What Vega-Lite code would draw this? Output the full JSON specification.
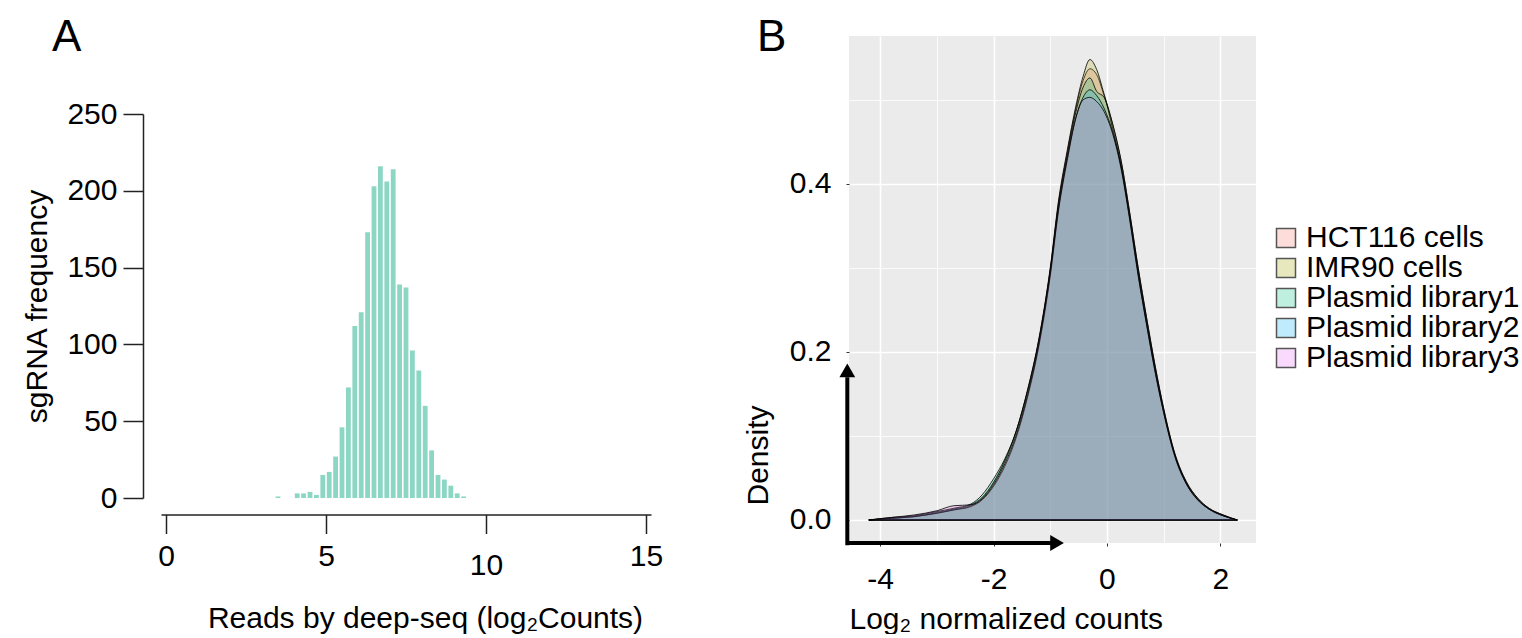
{
  "$schema": "https://vega.github.io/schema/vega-lite/v6.json",
  "padding": {"left": 22, "top": 16, "right": 0, "bottom": 0},
  "background": "white",
  "config": {
    "font": "Liberation Sans",
    "view": {"stroke": null},
    "axis": {"labelFontSize": 30, "titleFontSize": 30, "labelColor": "black", "titleColor": "black", "titleFontWeight": "normal", "domainColor": "#222", "tickColor": "#222", "grid": false, "labelFont": "Liberation Sans", "titleFont": "Liberation Sans"},
    "title": {"fontSize": 44, "fontWeight": "normal", "anchor": "start", "frame": "group", "color": "black", "font": "Liberation Sans"},
    "concat": {"spacing": 80}
  },
  "hconcat": [
    {
      "title": {"text": "A", "dx": -109, "offset": -24},
      "width": 490,
      "height": 507,
      "data": {"values": [
        {"bin_center": 3.5, "frequency": 1},
        {"bin_center": 4.1, "frequency": 3},
        {"bin_center": 4.3, "frequency": 3},
        {"bin_center": 4.5, "frequency": 4},
        {"bin_center": 4.7, "frequency": 2},
        {"bin_center": 4.9, "frequency": 15},
        {"bin_center": 5.1, "frequency": 17},
        {"bin_center": 5.3, "frequency": 27},
        {"bin_center": 5.5, "frequency": 46},
        {"bin_center": 5.7, "frequency": 72},
        {"bin_center": 5.9, "frequency": 112},
        {"bin_center": 6.1, "frequency": 121},
        {"bin_center": 6.3, "frequency": 173},
        {"bin_center": 6.5, "frequency": 203},
        {"bin_center": 6.7, "frequency": 216},
        {"bin_center": 6.9, "frequency": 206},
        {"bin_center": 7.1, "frequency": 214},
        {"bin_center": 7.3, "frequency": 139},
        {"bin_center": 7.5, "frequency": 137},
        {"bin_center": 7.7, "frequency": 96},
        {"bin_center": 7.9, "frequency": 83},
        {"bin_center": 8.1, "frequency": 60},
        {"bin_center": 8.3, "frequency": 31},
        {"bin_center": 8.5, "frequency": 15},
        {"bin_center": 8.7, "frequency": 12},
        {"bin_center": 8.9, "frequency": 8},
        {"bin_center": 9.1, "frequency": 3},
        {"bin_center": 9.3, "frequency": 1}
      ]},
      "mark": {"type": "bar", "color": "#8CD6C4", "size": 4.8},
      "encoding": {
        "x": {"field": "bin_center", "type": "quantitative", "scale": {"domain": [0, 15], "nice": false, "zero": false},
          "axis": {"title": "Reads by deep-seq (log₂Counts)", "values": [0, 5, 10, 15], "offset": -28.5, "tickSize": 19, "tickWidth": 1.5, "domainWidth": 1.5, "labelPadding": {"condition": {"test": "datum.value == 10", "value": 17}, "value": 8}, "titlePadding": 23, "titleX": 264, "labelFlush": false}},
        "y": {"field": "frequency", "type": "quantitative", "scale": {"domain": [0, 250], "nice": false, "range": [462, 78]},
          "axis": {"title": "sgRNA frequency", "values": [0, 50, 100, 150, 200, 250], "offset": 18, "tickSize": 20, "tickWidth": 1.5, "domainWidth": 1.5, "labelPadding": 6, "titlePadding": 14}}
      }
    },
    {
      "title": {"text": "B", "dx": -92, "offset": -24},
      "width": 407,
      "height": 507,
      "view": {"fill": "#EBEBEB", "stroke": null},
      "layer": [
        {
          "data": {"values": [
            {"x": -4.2, "HCT116 cells": 0, "IMR90 cells": 0, "Plasmid library1": 0, "Plasmid library2": 0, "Plasmid library3": 0},
            {"x": -3.8, "HCT116 cells": 0.002, "IMR90 cells": 0.002, "Plasmid library1": 0.003, "Plasmid library2": 0.002, "Plasmid library3": 0.003},
            {"x": -3.4, "HCT116 cells": 0.004, "IMR90 cells": 0.004, "Plasmid library1": 0.005, "Plasmid library2": 0.004, "Plasmid library3": 0.006},
            {"x": -3.0, "HCT116 cells": 0.008, "IMR90 cells": 0.009, "Plasmid library1": 0.010, "Plasmid library2": 0.008, "Plasmid library3": 0.011},
            {"x": -2.7, "HCT116 cells": 0.012, "IMR90 cells": 0.013, "Plasmid library1": 0.014, "Plasmid library2": 0.012, "Plasmid library3": 0.017},
            {"x": -2.4, "HCT116 cells": 0.017, "IMR90 cells": 0.018, "Plasmid library1": 0.019, "Plasmid library2": 0.016, "Plasmid library3": 0.018},
            {"x": -2.2, "HCT116 cells": 0.026, "IMR90 cells": 0.027, "Plasmid library1": 0.030, "Plasmid library2": 0.024, "Plasmid library3": 0.025},
            {"x": -2.0, "HCT116 cells": 0.044, "IMR90 cells": 0.045, "Plasmid library1": 0.049, "Plasmid library2": 0.040, "Plasmid library3": 0.042},
            {"x": -1.8, "HCT116 cells": 0.070, "IMR90 cells": 0.071, "Plasmid library1": 0.073, "Plasmid library2": 0.064, "Plasmid library3": 0.067},
            {"x": -1.6, "HCT116 cells": 0.105, "IMR90 cells": 0.106, "Plasmid library1": 0.106, "Plasmid library2": 0.098, "Plasmid library3": 0.101},
            {"x": -1.4, "HCT116 cells": 0.153, "IMR90 cells": 0.155, "Plasmid library1": 0.154, "Plasmid library2": 0.146, "Plasmid library3": 0.149},
            {"x": -1.2, "HCT116 cells": 0.214, "IMR90 cells": 0.216, "Plasmid library1": 0.214, "Plasmid library2": 0.207, "Plasmid library3": 0.210},
            {"x": -1.0, "HCT116 cells": 0.298, "IMR90 cells": 0.300, "Plasmid library1": 0.297, "Plasmid library2": 0.290, "Plasmid library3": 0.293},
            {"x": -0.85, "HCT116 cells": 0.379, "IMR90 cells": 0.382, "Plasmid library1": 0.377, "Plasmid library2": 0.370, "Plasmid library3": 0.372},
            {"x": -0.7, "HCT116 cells": 0.437, "IMR90 cells": 0.440, "Plasmid library1": 0.434, "Plasmid library2": 0.428, "Plasmid library3": 0.430},
            {"x": -0.55, "HCT116 cells": 0.489, "IMR90 cells": 0.492, "Plasmid library1": 0.485, "Plasmid library2": 0.478, "Plasmid library3": 0.478},
            {"x": -0.42, "HCT116 cells": 0.523, "IMR90 cells": 0.528, "Plasmid library1": 0.515, "Plasmid library2": 0.503, "Plasmid library3": 0.500},
            {"x": -0.3, "HCT116 cells": 0.537, "IMR90 cells": 0.548, "Plasmid library1": 0.526, "Plasmid library2": 0.512, "Plasmid library3": 0.503},
            {"x": -0.18, "HCT116 cells": 0.530, "IMR90 cells": 0.536, "Plasmid library1": 0.510, "Plasmid library2": 0.505, "Plasmid library3": 0.498},
            {"x": -0.05, "HCT116 cells": 0.505, "IMR90 cells": 0.507, "Plasmid library1": 0.503, "Plasmid library2": 0.490, "Plasmid library3": 0.486},
            {"x": 0.1, "HCT116 cells": 0.471, "IMR90 cells": 0.472, "Plasmid library1": 0.466, "Plasmid library2": 0.462, "Plasmid library3": 0.460},
            {"x": 0.25, "HCT116 cells": 0.427, "IMR90 cells": 0.428, "Plasmid library1": 0.422, "Plasmid library2": 0.420, "Plasmid library3": 0.418},
            {"x": 0.4, "HCT116 cells": 0.366, "IMR90 cells": 0.367, "Plasmid library1": 0.362, "Plasmid library2": 0.360, "Plasmid library3": 0.358},
            {"x": 0.55, "HCT116 cells": 0.301, "IMR90 cells": 0.300, "Plasmid library1": 0.296, "Plasmid library2": 0.293, "Plasmid library3": 0.291},
            {"x": 0.7, "HCT116 cells": 0.241, "IMR90 cells": 0.240, "Plasmid library1": 0.236, "Plasmid library2": 0.233, "Plasmid library3": 0.232},
            {"x": 0.85, "HCT116 cells": 0.184, "IMR90 cells": 0.183, "Plasmid library1": 0.180, "Plasmid library2": 0.177, "Plasmid library3": 0.176},
            {"x": 1.0, "HCT116 cells": 0.133, "IMR90 cells": 0.133, "Plasmid library1": 0.130, "Plasmid library2": 0.128, "Plasmid library3": 0.128},
            {"x": 1.2, "HCT116 cells": 0.079, "IMR90 cells": 0.078, "Plasmid library1": 0.077, "Plasmid library2": 0.076, "Plasmid library3": 0.075},
            {"x": 1.4, "HCT116 cells": 0.046, "IMR90 cells": 0.045, "Plasmid library1": 0.044, "Plasmid library2": 0.043, "Plasmid library3": 0.043},
            {"x": 1.6, "HCT116 cells": 0.026, "IMR90 cells": 0.026, "Plasmid library1": 0.025, "Plasmid library2": 0.024, "Plasmid library3": 0.024},
            {"x": 1.8, "HCT116 cells": 0.014, "IMR90 cells": 0.014, "Plasmid library1": 0.013, "Plasmid library2": 0.013, "Plasmid library3": 0.013},
            {"x": 2.05, "HCT116 cells": 0.006, "IMR90 cells": 0.006, "Plasmid library1": 0.005, "Plasmid library2": 0.005, "Plasmid library3": 0.005},
            {"x": 2.3, "HCT116 cells": 0, "IMR90 cells": 0, "Plasmid library1": 0, "Plasmid library2": 0, "Plasmid library3": 0}
          ]},
          "transform": [{"fold": ["HCT116 cells", "IMR90 cells", "Plasmid library1", "Plasmid library2", "Plasmid library3"], "as": ["sample", "density"]}],
          "mark": {"type": "area", "fillOpacity": 0.22, "stroke": "black", "strokeWidth": 0.8, "interpolate": "monotone"},
          "encoding": {
            "x": {"field": "x", "type": "quantitative", "scale": {"domain": [-4.55, 2.63], "nice": false, "zero": false},
              "axis": {"title": "Log₂ normalized counts", "titleAnchor": "start", "values": [-4, -3, -2, -1, 0, 1, 2], "labelExpr": "datum.value % 2 == 0 ? toString(datum.value) : ''", "domain": false, "grid": true, "gridColor": "white", "gridWidth": {"condition": {"test": "datum.value % 2 == 0", "value": 1.6}, "value": 0.8}, "tickSize": 3, "tickColor": "#333", "tickOpacity": {"condition": {"test": "datum.value % 2 == 0", "value": 1}, "value": 0}, "labelPadding": 18, "titlePadding": 10, "labelFlush": false}},
            "y": {"field": "density", "type": "quantitative", "stack": null, "scale": {"domain": [-0.0274, 0.576], "nice": false, "zero": false},
              "axis": {"title": "Density", "titleY": 419, "values": [0, 0.1, 0.2, 0.3, 0.4, 0.5], "labelExpr": "abs((datum.value * 10) % 2) < 0.01 ? format(datum.value, '.1f') : ''", "domain": false, "grid": true, "gridColor": "white", "gridWidth": {"condition": {"test": "abs((datum.value * 10) % 2) < 0.01", "value": 1.6}, "value": 0.8}, "tickSize": 3, "tickColor": "#333", "tickOpacity": {"condition": {"test": "abs((datum.value * 10) % 2) < 0.01", "value": 1}, "value": 0}, "labelPadding": 15, "titlePadding": 16}},
            "color": {"field": "sample", "type": "nominal",
              "scale": {"domain": ["HCT116 cells", "IMR90 cells", "Plasmid library1", "Plasmid library2", "Plasmid library3"], "range": ["#F8766D", "#A3A500", "#00BF7D", "#00B0F6", "#E76BF3"]},
              "legend": {"title": null, "orient": "none", "legendX": 1110, "legendY": 187, "labelFontSize": 30, "labelColor": "black", "labelFont": "Liberation Sans", "labelLimit": 400, "symbolType": "square", "symbolSize": 361, "symbolStrokeColor": "#555", "symbolStrokeWidth": 1.5, "rowPadding": -9.5, "labelOffset": 5,
                "encode": {"symbols": {"update": {"fillOpacity": {"value": 0.25}, "opacity": {"value": 1}, "stroke": {"value": "#555"}, "strokeWidth": {"value": 1.5}}}}}}
          }
        },
        {
          "data": {"values": [{}]},
          "mark": {"type": "rule", "strokeWidth": 4, "color": "black"},
          "encoding": {"x": {"datum": -4.58, "type": "quantitative"}, "y": {"datum": -0.03, "type": "quantitative"}, "y2": {"datum": 0.17}}
        },
        {
          "data": {"values": [{}]},
          "mark": {"type": "rule", "strokeWidth": 4, "color": "black"},
          "encoding": {"x": {"datum": -4.6, "type": "quantitative"}, "x2": {"datum": -0.95}, "y": {"datum": -0.0274, "type": "quantitative"}}
        },
        {
          "data": {"values": [{}]},
          "mark": {"type": "point", "shape": "triangle-up", "filled": true, "color": "black", "opacity": 1, "size": 250},
          "encoding": {"x": {"datum": -4.58, "type": "quantitative"}, "y": {"datum": 0.178, "type": "quantitative"}}
        },
        {
          "data": {"values": [{}]},
          "mark": {"type": "point", "shape": "triangle-right", "filled": true, "color": "black", "opacity": 1, "size": 250},
          "encoding": {"x": {"datum": -0.88, "type": "quantitative"}, "y": {"datum": -0.0274, "type": "quantitative"}}
        }
      ]
    }
  ]
}
